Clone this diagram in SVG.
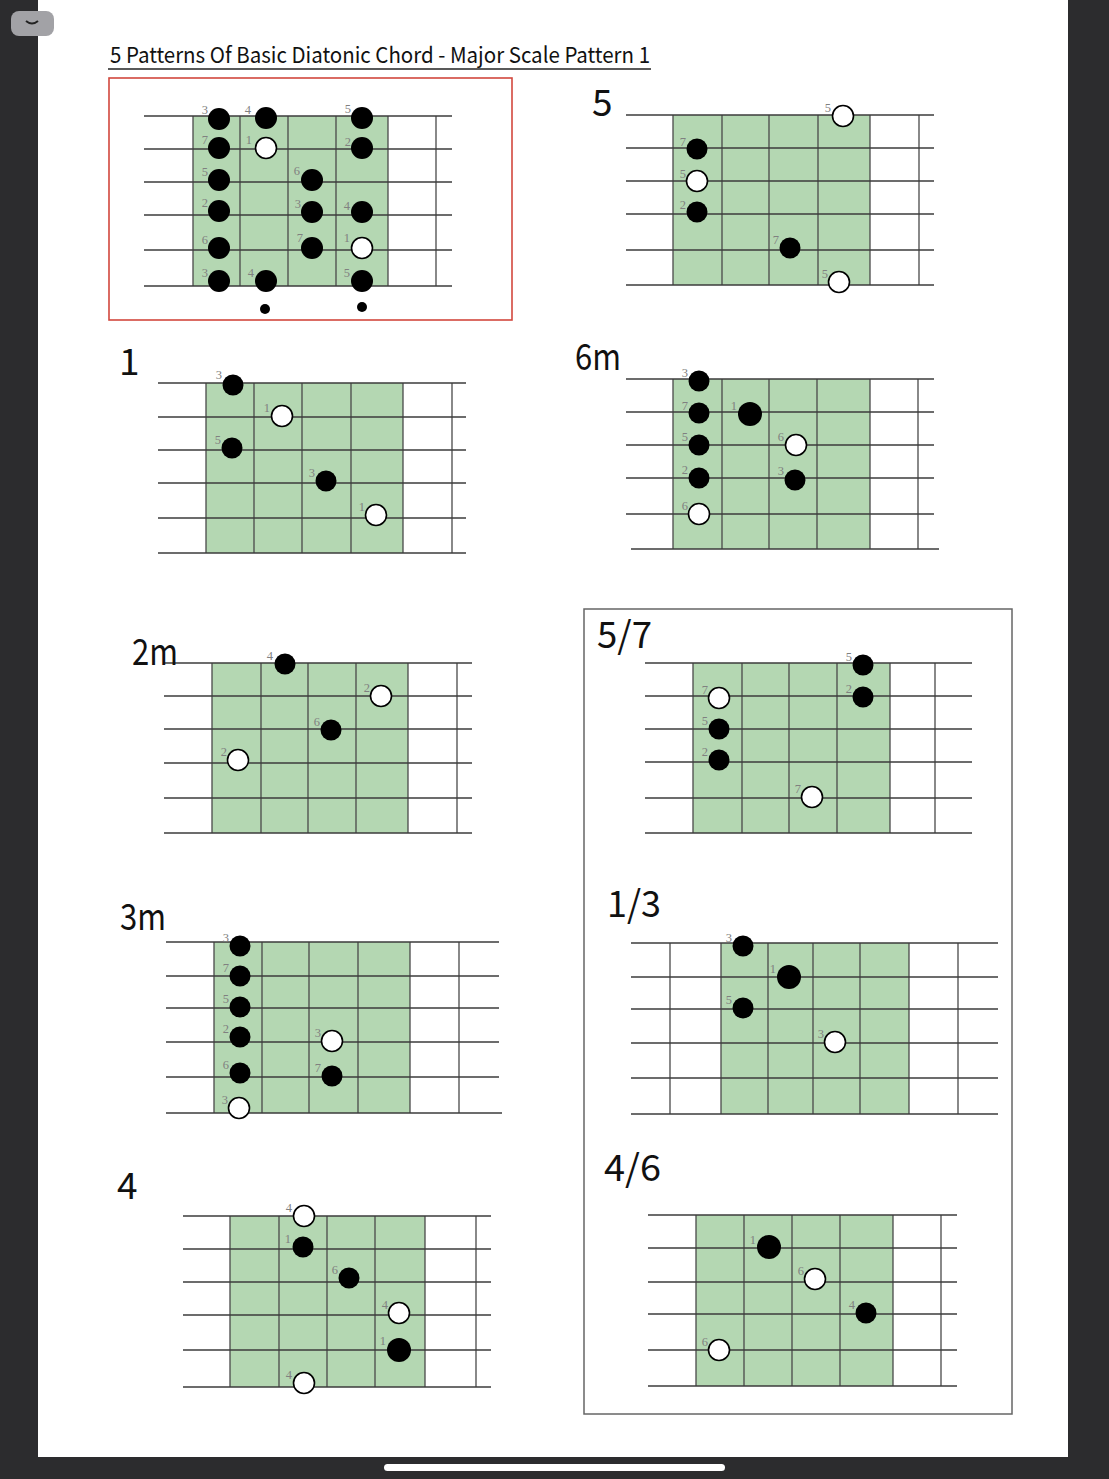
<svg xmlns="http://www.w3.org/2000/svg" width="1109" height="1479" viewBox="0 0 1109 1479">
<style>
.str{stroke:#3c3c3c;stroke-width:1.3;fill:none}
.fret{stroke:#4a4a4a;stroke-width:1.3;fill:none}
.grn{fill:#b4d7b2}
.b{fill:#000}
.w{fill:#fff;stroke:#000;stroke-width:1.6}
.lbl{font-family:"Liberation Serif",serif;font-size:12.5px;fill:#808080;text-anchor:end}
.ch{font-family:"Noto Sans CJK JP","Noto Sans",sans-serif;font-size:37px;fill:#111}
</style>
<rect x="0" y="0" width="1109" height="1479" fill="#2c2c2e"/>
<rect x="38" y="0" width="1030" height="1457" fill="#fff"/>
<rect x="384" y="1464" width="341" height="7" rx="3.5" fill="#fff"/>
<g id="tab">
<rect x="11" y="11" width="43" height="25" rx="8" fill="#a2a2a6"/>
<path d="M26,21 Q32,26 38,21" stroke="#222" stroke-width="2" fill="none"/>
</g>
<g id="title">
<text x="110" y="63" font-family="Noto Sans CJK JP, Noto Sans, sans-serif" font-size="22" fill="#111" textLength="540" lengthAdjust="spacingAndGlyphs">5 Patterns Of Basic Diatonic Chord - Major Scale Pattern 1</text>
<line x1="108" y1="69" x2="651" y2="69" stroke="#222" stroke-width="1.6"/>
</g>
<g id="connectors"/>

<g id="pattern">
<rect x="109" y="78" width="403" height="242" fill="none" stroke="#d2483e" stroke-width="1.6"/>
<rect class="grn" x="193" y="116" width="195" height="170"/>
<path class="fret" d="M193,116V286M240,116V286M288,116V286M336,116V286M388,116V286M436,116V286"/>
<path class="str" d="M144,116H452M144,149H452M144,182H452M144,215H452M144,250H452M144,286H452"/>
<circle class="b" cx="219" cy="119" r="11"/><circle class="b" cx="219" cy="148" r="11"/><circle class="b" cx="219" cy="180" r="11"/><circle class="b" cx="219" cy="211" r="11"/><circle class="b" cx="219" cy="248" r="11"/><circle class="b" cx="219" cy="281" r="11"/>
<circle class="b" cx="266" cy="118" r="11"/><circle class="w" cx="266" cy="148" r="10.5"/><circle class="b" cx="266" cy="281" r="11"/>
<circle class="b" cx="312" cy="180" r="11"/><circle class="b" cx="312" cy="212" r="11"/><circle class="b" cx="312" cy="248" r="11"/>
<circle class="b" cx="362" cy="118" r="11"/><circle class="b" cx="362" cy="148" r="11"/><circle class="b" cx="362" cy="212" r="11"/><circle class="w" cx="362" cy="248" r="10.5"/><circle class="b" cx="362" cy="281" r="11"/>
<circle class="b" cx="265" cy="309" r="5"/><circle class="b" cx="362" cy="307" r="5"/>
<text class="lbl" x="208" y="114">3</text><text class="lbl" x="208" y="144">7</text><text class="lbl" x="208" y="176">5</text><text class="lbl" x="208" y="207">2</text><text class="lbl" x="208" y="244">6</text><text class="lbl" x="208" y="277">3</text>
<text class="lbl" x="251" y="114">4</text><text class="lbl" x="252" y="144">1</text><text class="lbl" x="254" y="277">4</text>
<text class="lbl" x="300" y="175">6</text><text class="lbl" x="301" y="208">3</text><text class="lbl" x="303" y="242">7</text>
<text class="lbl" x="351" y="113">5</text><text class="lbl" x="351" y="146">2</text><text class="lbl" x="350" y="210">4</text><text class="lbl" x="350" y="242">1</text><text class="lbl" x="350" y="277">5</text>
</g>

<g id="chord5">
<text class="ch" x="592" y="116">5</text>
<rect class="grn" x="673" y="115" width="197" height="170"/>
<path class="fret" d="M673,115V285M722,115V285M769,115V285M818,115V285M870,115V285M919,115V285"/>
<path class="str" d="M626,115H934M626,148H934M626,181H934M626,214H934M626,250H934M626,285H934"/>
<circle class="w" cx="843" cy="116" r="10.5"/><circle class="b" cx="697" cy="149" r="10.5"/><circle class="w" cx="697" cy="181" r="10.5"/><circle class="b" cx="697" cy="212" r="10.5"/><circle class="b" cx="790" cy="248" r="10.5"/><circle class="w" cx="839" cy="282" r="10.5"/>
<text class="lbl" x="831" y="112">5</text><text class="lbl" x="686" y="146">7</text><text class="lbl" x="686" y="178">5</text><text class="lbl" x="686" y="209">2</text><text class="lbl" x="779" y="244">7</text><text class="lbl" x="828" y="278">5</text>
</g>

<g id="chord1">
<text class="ch" x="119" y="375">1</text>
<rect class="grn" x="206" y="383" width="197" height="170"/>
<path class="fret" d="M206,383V553M254,383V553M302,383V553M351,383V553M403,383V553M452,383V553"/>
<path class="str" d="M158,383H466M158,417H466M158,450H466M158,483H466M158,518H466M158,553H466"/>
<circle class="b" cx="233" cy="385" r="10.5"/><circle class="w" cx="282" cy="416" r="10.5"/><circle class="b" cx="232" cy="448" r="10.5"/><circle class="b" cx="326" cy="481" r="10.5"/><circle class="w" cx="376" cy="515" r="10.5"/>
<text class="lbl" x="222" y="379">3</text><text class="lbl" x="270" y="412">1</text><text class="lbl" x="221" y="444">5</text><text class="lbl" x="315" y="477">3</text><text class="lbl" x="365" y="511">1</text>
</g>

<g id="chord6m">
<text class="ch" x="575" y="370" textLength="46" lengthAdjust="spacingAndGlyphs">6m</text>
<rect class="grn" x="673" y="379" width="197" height="170"/>
<path class="fret" d="M673,379V549M722,379V549M769,379V549M817,379V549M870,379V549M918,379V549"/>
<path class="str" d="M626,379H934M626,412H934M626,445H934M626,478H934M626,514H934M631,549H939"/>
<circle class="b" cx="699" cy="381" r="10.5"/><circle class="b" cx="699" cy="413" r="10.5"/><circle class="b" cx="750" cy="414" r="12"/><circle class="b" cx="699" cy="445" r="10.5"/><circle class="w" cx="796" cy="445" r="10.5"/><circle class="b" cx="699" cy="478" r="10.5"/><circle class="b" cx="795" cy="480" r="10.5"/><circle class="w" cx="699" cy="514" r="10.5"/>
<text class="lbl" x="688" y="377">3</text><text class="lbl" x="688" y="410">7</text><text class="lbl" x="737" y="410">1</text><text class="lbl" x="688" y="441">5</text><text class="lbl" x="784" y="441">6</text><text class="lbl" x="688" y="474">2</text><text class="lbl" x="784" y="475">3</text><text class="lbl" x="688" y="510">6</text>
</g>

<g id="chord2m">
<rect class="grn" x="212" y="663" width="196" height="170"/>
<path class="fret" d="M212,663V833M261,663V833M308,663V833M356,663V833M408,663V833M457,663V833"/>
<path class="str" d="M164,663H472M164,696H472M164,729H472M164,763H472M164,798H472M164,833H472"/>
<text class="ch" x="132" y="665" textLength="46" lengthAdjust="spacingAndGlyphs">2m</text>
<circle class="b" cx="285" cy="664" r="10.5"/><circle class="w" cx="381" cy="696" r="10.5"/><circle class="b" cx="331" cy="730" r="10.5"/><circle class="w" cx="238" cy="760" r="10.5"/>
<text class="lbl" x="273" y="660">4</text><text class="lbl" x="370" y="692">2</text><text class="lbl" x="320" y="726">6</text><text class="lbl" x="227" y="756">2</text>
</g>

<g id="frame">
<rect x="584" y="609" width="428" height="805" fill="none" stroke="#666" stroke-width="1.5"/>
</g>

<g id="chord5-7">
<text class="ch" x="597" y="648" textLength="55" lengthAdjust="spacingAndGlyphs">5/7</text>
<rect class="grn" x="693" y="663" width="197" height="170"/>
<path class="fret" d="M693,663V833M742,663V833M789,663V833M837,663V833M890,663V833M935,663V833"/>
<path class="str" d="M645,663H972M645,696H972M645,729H972M645,762H972M645,798H972M645,833H972"/>
<circle class="b" cx="863" cy="665" r="10.5"/><circle class="b" cx="863" cy="697" r="10.5"/><circle class="w" cx="719" cy="698" r="10.5"/><circle class="b" cx="719" cy="729" r="10.5"/><circle class="b" cx="719" cy="760" r="10.5"/><circle class="w" cx="812" cy="797" r="10.5"/>
<text class="lbl" x="852" y="661">5</text><text class="lbl" x="852" y="693">2</text><text class="lbl" x="708" y="694">7</text><text class="lbl" x="708" y="725">5</text><text class="lbl" x="708" y="756">2</text><text class="lbl" x="801" y="793">7</text>
</g>

<g id="chord3m">
<text class="ch" x="120" y="930" textLength="46" lengthAdjust="spacingAndGlyphs">3m</text>
<rect class="grn" x="214" y="942" width="196" height="171"/>
<path class="fret" d="M214,942V1113M262,942V1113M309,942V1113M358,942V1113M410,942V1113M459,942V1113"/>
<path class="str" d="M166,942H499M166,976H499M166,1008H499M166,1042H499M166,1077H499M166,1113H502"/>
<circle class="b" cx="240" cy="946" r="10.5"/><circle class="b" cx="240" cy="976" r="10.5"/><circle class="b" cx="240" cy="1007" r="10.5"/><circle class="b" cx="240" cy="1037" r="10.5"/><circle class="b" cx="240" cy="1073" r="10.5"/><circle class="w" cx="239" cy="1108" r="10.5"/><circle class="w" cx="332" cy="1041" r="10.5"/><circle class="b" cx="332" cy="1076" r="10.5"/>
<text class="lbl" x="229" y="942">3</text><text class="lbl" x="229" y="972">7</text><text class="lbl" x="229" y="1003">5</text><text class="lbl" x="229" y="1033">2</text><text class="lbl" x="229" y="1069">6</text><text class="lbl" x="228" y="1104">3</text><text class="lbl" x="321" y="1037">3</text><text class="lbl" x="321" y="1072">7</text>
</g>

<g id="chord1-3">
<text class="ch" x="607" y="917" textLength="54" lengthAdjust="spacingAndGlyphs">1/3</text>
<rect class="grn" x="721" y="943" width="188" height="171"/>
<path class="fret" d="M670,943V1114M721,943V1114M768,943V1114M813,943V1114M860,943V1114M909,943V1114M958,943V1114"/>
<path class="str" d="M631,943H998M631,977H998M631,1009H998M631,1043H998M631,1078H998M631,1114H998"/>
<circle class="b" cx="743" cy="946" r="10.5"/><circle class="b" cx="789" cy="977" r="12"/><circle class="b" cx="743" cy="1008" r="10.5"/><circle class="w" cx="835" cy="1042" r="10.5"/>
<text class="lbl" x="732" y="942">3</text><text class="lbl" x="776" y="973">1</text><text class="lbl" x="732" y="1004">5</text><text class="lbl" x="824" y="1038">3</text>
</g>

<g id="chord4">
<text class="ch" x="117" y="1199">4</text>
<rect class="grn" x="230" y="1216" width="195" height="171"/>
<path class="fret" d="M230,1216V1387M279,1216V1387M327,1216V1387M375,1216V1387M425,1216V1387M476,1216V1387"/>
<path class="str" d="M183,1216H491M183,1249H491M183,1282H491M183,1315H491M183,1350H491M183,1387H491"/>
<circle class="w" cx="304" cy="1216" r="10.5"/><circle class="b" cx="303" cy="1247" r="10.5"/><circle class="b" cx="349" cy="1278" r="10.5"/><circle class="w" cx="399" cy="1313" r="10.5"/><circle class="b" cx="399" cy="1350" r="12"/><circle class="w" cx="304" cy="1383" r="10.5"/>
<text class="lbl" x="292" y="1212">4</text><text class="lbl" x="291" y="1243">1</text><text class="lbl" x="338" y="1274">6</text><text class="lbl" x="388" y="1309">4</text><text class="lbl" x="386" y="1345">1</text><text class="lbl" x="292" y="1379">4</text>
</g>

<g id="chord4-6">
<text class="ch" x="604" y="1181" textLength="57" lengthAdjust="spacingAndGlyphs">4/6</text>
<rect class="grn" x="696" y="1215" width="197" height="171"/>
<path class="fret" d="M696,1215V1386M744,1215V1386M792,1215V1386M840,1215V1386M893,1215V1386M941,1215V1386"/>
<path class="str" d="M648,1215H957M648,1248H957M648,1282H957M648,1314H957M648,1350H957M648,1386H957"/>
<circle class="b" cx="769" cy="1247" r="12"/><circle class="w" cx="815" cy="1279" r="10.5"/><circle class="b" cx="866" cy="1313" r="10.5"/><circle class="w" cx="719" cy="1350" r="10.5"/>
<text class="lbl" x="756" y="1244">1</text><text class="lbl" x="804" y="1275">6</text><text class="lbl" x="855" y="1309">4</text><text class="lbl" x="708" y="1346">6</text>
</g>
</svg>
